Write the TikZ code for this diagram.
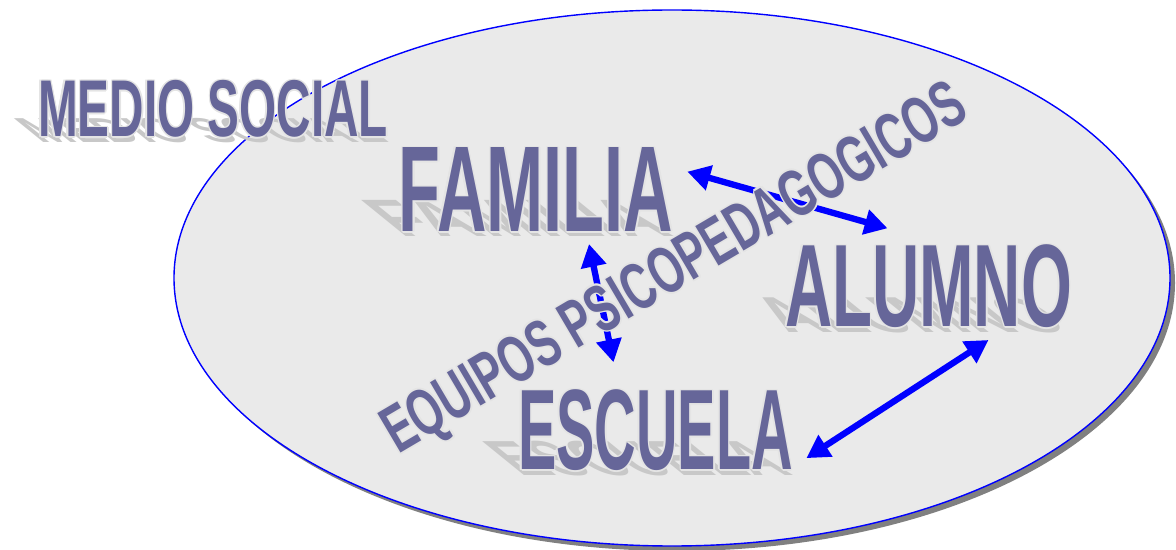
\documentclass[tikz,border=0pt]{standalone}
\usepackage{fontspec}
\setmainfont{Liberation Sans}
\usepackage{graphicx}
\usetikzlibrary{arrows.meta,calc}
\definecolor{wordblue}{HTML}{666699}
\definecolor{halogray}{HTML}{E4E4E4}
\definecolor{shadowgray}{HTML}{C8C8C8}
\definecolor{ovalfill}{HTML}{EAEAEA}
\definecolor{ovalshadow}{HTML}{808080}
\definecolor{arrowblue}{HTML}{0000FF}
\tikzset{
	word/.style={inner sep=0, text=wordblue, font=\bfseries},
	wordhalo/.style={inner sep=0, text=halogray, font=\bfseries},
	wordshadow/.style={inner sep=0, text=shadowgray, font=\bfseries},
	link/.style={draw=arrowblue, line width=3.6pt,
			{Triangle[length=13pt,width=14pt]}-{Triangle[length=13pt,width=14pt]}}
}
\newcommand{\wordart}[5]{%
	\begin{scope}[shift={#2}, shift={(3,5)}, cm={1,0,-0.53,0.43,(0,0)}]
		\node[wordshadow, transform shape, anchor=south] (#1-shadow) at (0,0) {\resizebox*{#3}{#4}{#5}};
	\end{scope}
	\foreach \dx/\dy [count=\i] in {1.5/0,-1.5/0,0/1.5,0/-1.5,1.1/1.1,-1.1/1.1,1.1/-1.1,-1.1/-1.1}
		\node[wordhalo, anchor=south] (#1-halo\i) at ($#2+(\dx,\dy)$) {\resizebox*{#3}{#4}{#5}};
	\node[word, anchor=south] (#1) at #2 {\resizebox*{#3}{#4}{#5}};
}

\begin{document}
\begin{tikzpicture}[x=0.02cm, y=-0.02cm]
        \useasboundingbox (0,0) rectangle (1176,550);
        \fill[ovalshadow] (677,283) ellipse [x radius=498, y radius=268];
        \filldraw[fill=ovalfill, draw=arrowblue, line width=0.8pt] (672,278) ellipse [x radius=498, y radius=268];
        \wordart{medio}{(213,138)}{7cm}{1.14cm}{MEDIO SOCIAL}
        \wordart{familia}{(536,232)}{5.48cm}{1.68cm}{FAMILIA}
        \wordart{alumno}{(928.5,328)}{5.74cm}{1.66cm}{ALUMNO}
        \wordart{escuela}{(655.5,471)}{5.5cm}{1.62cm}{ESCUELA}
        \draw[link] ($(familia.east)+(14,-18)$) -- ($(alumno.north)+(-41,-16)$);
        \draw[link] ($(familia.south)+(53,12)$) -- ($(escuela.north)+(-42,-27)$);
        \draw[link] ($(alumno.south)+(60,12)$) -- ($(escuela.east)+(13,28)$);
        \foreach \dx/\dy [count=\i] in {1.5/0,-1.5/0,0/1.5,0/-1.5,1.1/1.1,-1.1/1.1,1.1/-1.1,-1.1/-1.1}
            \node[wordhalo, rotate=30.5, anchor=base west] (equipos-halo\i) at ($(398,455)+(\dx,\dy)$) {\resizebox{13.3cm}{0.93cm}{EQUIPOS PSICOPEDAGOGICOS}};
        \node[word, rotate=30.5, anchor=base west] (equipos) at (398,455) {\resizebox{13.3cm}{0.93cm}{EQUIPOS PSICOPEDAGOGICOS}};
    \end{tikzpicture}
\end{document}
